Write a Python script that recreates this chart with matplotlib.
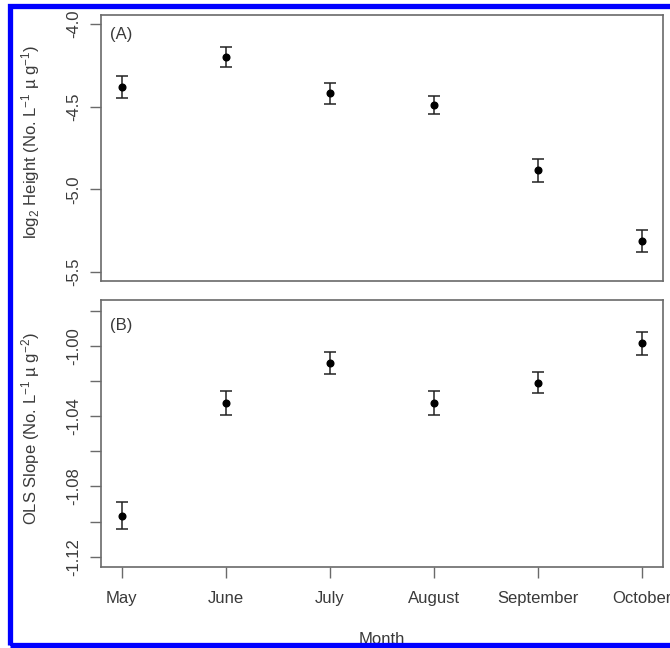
import matplotlib
matplotlib.use('Agg')
import matplotlib.pyplot as plt
from matplotlib.patches import Rectangle

plt.rcParams['font.family'] = ['Liberation Sans', 'DejaVu Sans']
plt.rcParams['mathtext.fontset'] = 'custom'
plt.rcParams['mathtext.rm'] = 'Liberation Sans'
plt.rcParams['mathtext.it'] = 'Liberation Sans:italic'
plt.rcParams['axes.unicode_minus'] = False

months = ["May", "June", "July", "August", "September", "October"]

# (A) log2 height
height = [-4.38, -4.20, -4.42, -4.49, -4.885, -5.31]
height_err = [0.068, 0.063, 0.063, 0.056, 0.068, 0.066]

# (B) OLS slope
slope = [-1.0967, -1.0324, -1.0097, -1.0324, -1.0210, -0.9985]
slope_err = [0.0077, 0.0067, 0.0063, 0.0067, 0.0061, 0.0066]

top_ticks = [-4.0, -4.5, -5.0, -5.5]
bot_ticks = [-0.98, -1.00, -1.02, -1.04, -1.06, -1.08, -1.10, -1.12]
bot_labels = ["", "-1.00", "", "-1.04", "", "-1.08", "", "-1.12"]

W, H = 670, 648
fs = 12
fig = plt.figure(figsize=(W / 100, H / 100), dpi=100)
frame = '#6a6a6a'
txt = '#3a3a3a'


def box(l, t, r, b):
    return [l / W, 1 - b / H, (r - l) / W, (b - t) / H]


ax1 = fig.add_axes(box(101, 15, 663, 281))
ax2 = fig.add_axes(box(101, 300, 663, 567))
x = list(range(1, len(months) + 1))

for ax, y, e in [(ax1, height, height_err), (ax2, slope, slope_err)]:
    ax.errorbar(x, y, yerr=e, fmt='o', color='black', ecolor='#222222',
                elinewidth=1.1, capsize=4.5, capthick=1.1, markersize=4.8)
    ax.set_xlim(0.8, 6.2)
    for s in ax.spines.values():
        s.set_color(frame)
        s.set_linewidth(1.2)
    ax.tick_params(axis='y', direction='out', length=8, width=1, color=frame,
                   labelsize=fs, labelcolor=txt, pad=6, labelrotation=90)

ax1.set_ylim(-5.554, -3.946)
ax1.set_yticks(top_ticks)
ax1.set_yticklabels(["%.1f" % v for v in top_ticks], va='center')
ax1.set_xticks([])
ax1.text(0.016, 0.925, "(A)", transform=ax1.transAxes, fontsize=fs,
         color=txt, va='center', ha='left')

ax2.set_ylim(-1.1259, -0.9739)
ax2.set_yticks(bot_ticks)
ax2.set_yticklabels(bot_labels, va='center')
ax2.set_xticks(x)
ax2.set_xticklabels(months)
ax2.tick_params(axis='x', direction='out', length=8, width=1, color=frame,
                labelsize=fs, labelcolor=txt, pad=9)
ax2.text(0.016, 0.906, "(B)", transform=ax2.transAxes, fontsize=fs,
         color=txt, va='center', ha='left')

fig.text(31 / W, 1 - 142 / H,
         "log$_2$ Height (No. L$^{-1}$ µ g$^{-1}$)",
         rotation=90, ha='center', va='center', fontsize=fs, color=txt)
fig.text(31 / W, 1 - 429 / H,
         "OLS Slope (No. L$^{-1}$ µ g$^{-2}$)",
         rotation=90, ha='center', va='center', fontsize=fs, color=txt)
fig.text(382 / W, 1 - 640 / H, "Month", ha='center', va='center',
         fontsize=fs, color=txt)

# blue frame around the figure
fig.patches.append(Rectangle((9.5 / W, 3.5 / H), (W + 20) / W, (H - 9) / H,
                             transform=fig.transFigure, fill=False,
                             edgecolor='#0000ff', linewidth=3.8, zorder=10))

fig.savefig('out.png', dpi=100)
